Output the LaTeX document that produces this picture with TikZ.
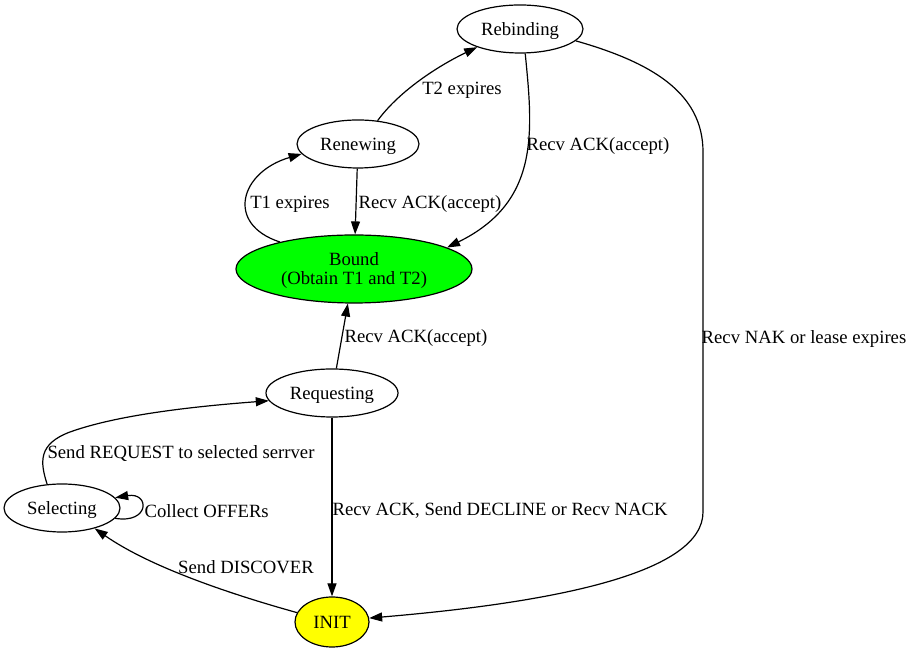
\documentclass[tikz,border=0pt]{standalone}
\usepackage{fontspec}
\setmainfont{Liberation Serif}
\usetikzlibrary{arrows.meta,shapes.geometric}

\begin{document}
\begin{tikzpicture}[x=1pt, y=1pt, line width=1.2pt,
    state/.style={draw, ellipse, inner sep=0pt, align=center, text depth=0pt, font=\fontsize{18.7}{19}\selectfont},
    lbl/.style={inner sep=0pt, yshift=-2pt, font=\fontsize{18.7}{19}\selectfont},
    edge/.style={-{Triangle[length=13pt, width=9pt]}}]
    \useasboundingbox (0,0) rectangle (912,652);

    % 状态
    \node[state, minimum width=126pt, minimum height=48pt] (rebind) at (520,623) {Rebinding};
    \node[state, minimum width=122pt, minimum height=48pt] (renew) at (358,508) {Renewing};
    \node[state, fill={rgb,255:red,0;green,255;blue,0}, minimum width=236pt, minimum height=68pt] (bound) at (354,383) {Bound\\(Obtain T1 and T2)};
    \node[state, minimum width=132pt, minimum height=48pt] (request) at (332,259) {Requesting};
    \node[state, minimum width=116pt, minimum height=48pt] (select) at (62,144) {Selecting};
    \node[state, fill={rgb,255:red,255;green,255;blue,0}, minimum width=74pt, minimum height=50pt] (init) at (332,30) {INIT};

    % 续租
    \draw[edge] (renew.50) .. controls (400,562) and (440,587) .. (rebind.203);
    \node[lbl] (t2lbl) at (462,564) {T2 expires};
    \draw[edge] (bound.160) .. controls (225,428) and (240,480) .. (renew.190);
    \node[lbl] (t1lbl) at (290,450) {T1 expires};
    \draw[edge] (renew) -- (bound);
    \node[lbl, anchor=west] (renewack) at (358,450) {Recv ACK(accept)};
    \draw[edge] (rebind.282) .. controls (533,520) and (540,450) .. (bound.13);
    \node[lbl] (rebindack) at (598,508) {Recv ACK(accept)};

    % 租约失效
    \draw[edge] (rebind.348) .. controls (650,590) and (703,560) .. (703,500)
        -- (703,140) .. controls (703,80) and (560,50) .. (init.6);
    \node[lbl] (naklbl) at (804,315) {Recv NAK or lease expires};

    % 申请
    \draw[edge] (request) -- (bound);
    \node[lbl] (reqack) at (416,316) {Recv ACK(accept)};
    \draw[edge] (select.122) .. controls (40,190) and (38,208) .. (70,220)
        .. controls (120,238) and (200,246) .. (request.187);
    \node[lbl] (sendreq) at (181,200) {Send REQUEST to selected serrver};
    \draw[edge] (select.-11) .. controls (150,128) and (150,160) .. (select.11);
    \node[lbl, anchor=west] (offers) at (144,143) {Collect OFFERs};
    \draw[edge] (request) -- (init);
    \node[lbl, anchor=west] (decline) at (332,144) {Recv ACK, Send DECLINE or Recv NACK};
    \draw[edge] (init.165) .. controls (230,58) and (150,85) .. (select.328);
    \node[lbl] (discover) at (246,87) {Send DISCOVER};
\end{tikzpicture}
\end{document}
